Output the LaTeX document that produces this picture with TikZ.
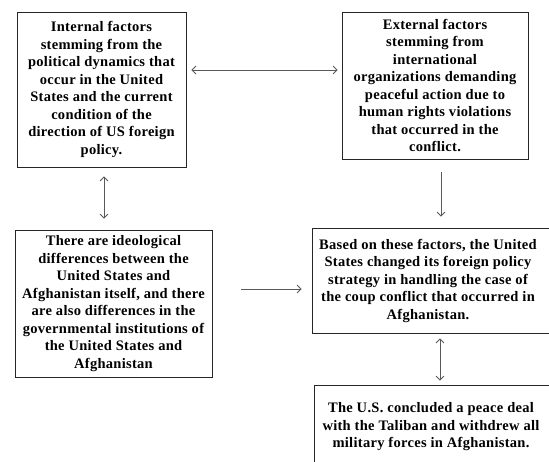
\documentclass[tikz,border=0pt]{standalone}
\usepackage{fontspec}
\setmainfont{Liberation Serif}[LetterSpace=2]
\usetikzlibrary{arrows.meta}
\begin{document}
\begin{tikzpicture}[x=1pt,y=-1pt,
  box/.style={draw=black!85, line width=0.8pt, rectangle, inner sep=0pt},
  txt/.style={font=\bfseries\fontsize{14.5}{17.5}\selectfont, align=center, inner sep=0pt},
  tip/.tip={Straight Barb[length=4pt,width=8pt]},
  conn/.style={draw=black!65, line width=0.8pt, tip-tip},
  one/.style={draw=black!65, line width=0.8pt, -tip}]
\useasboundingbox (0,0) rectangle (549,461);
\fill[white] (0,0) rectangle (549,461);
\begin{scope}
\clip (0,0) rectangle (549,461);
\node[box, txt, minimum width=169pt, minimum height=155pt] (b1) at (101.5,89.5)
  {Internal factors\\stemming from the\\political dynamics that\\occur in the United\\States and the current\\condition of the\\direction of US foreign\\policy.};
\node[box, txt, minimum width=186pt, minimum height=147pt] (b2) at (435,85.5)
  {External factors\\stemming from\\international\\organizations demanding\\peaceful action due to\\human rights violations\\that occurred in the\\conflict.};
\node[box, txt, minimum width=197pt, minimum height=147pt] (b3) at (113.5,303.5)
  {There are ideological\\differences between the\\United States and\\Afghanistan itself, and there\\are also differences in the\\governmental institutions of\\the United States and\\Afghanistan};
\node[box, minimum width=250pt, minimum height=105pt] (b4) at (437,280.5) {};
\node[txt] (t4) at (428,280.5)
  {Based on these factors, the United\\States changed its foreign policy\\strategy in handling the case of\\the coup conflict that occurred in\\Afghanistan.};
\node[box, minimum width=250pt, minimum height=90pt] (b5) at (439,430) {};
\node[txt] (t5) at (431,427)
  {The U.S. concluded a peace deal\\with the Taliban and withdrew all\\military forces in Afghanistan.};
\end{scope}
\draw[conn, shorten <=5pt, shorten >=4pt] (b1.east |- 0,70) -- (b2.west |- 0,70);
\draw[conn, shorten <=9pt, shorten >=11pt] (b1.south -| 104,0) -- (b3.north -| 104,0);
\draw[one, shorten <=13pt, shorten >=11pt] (b2.south -| 441,0) -- (b4.north -| 441,0);
\draw[one, shorten <=29pt, shorten >=10pt] (b3.east |- 0,289) -- (b4.west |- 0,289);
\draw[conn, shorten <=5pt, shorten >=4pt] (b4.south -| 440,0) -- (b5.north -| 440,0);
\end{tikzpicture}
\end{document}
